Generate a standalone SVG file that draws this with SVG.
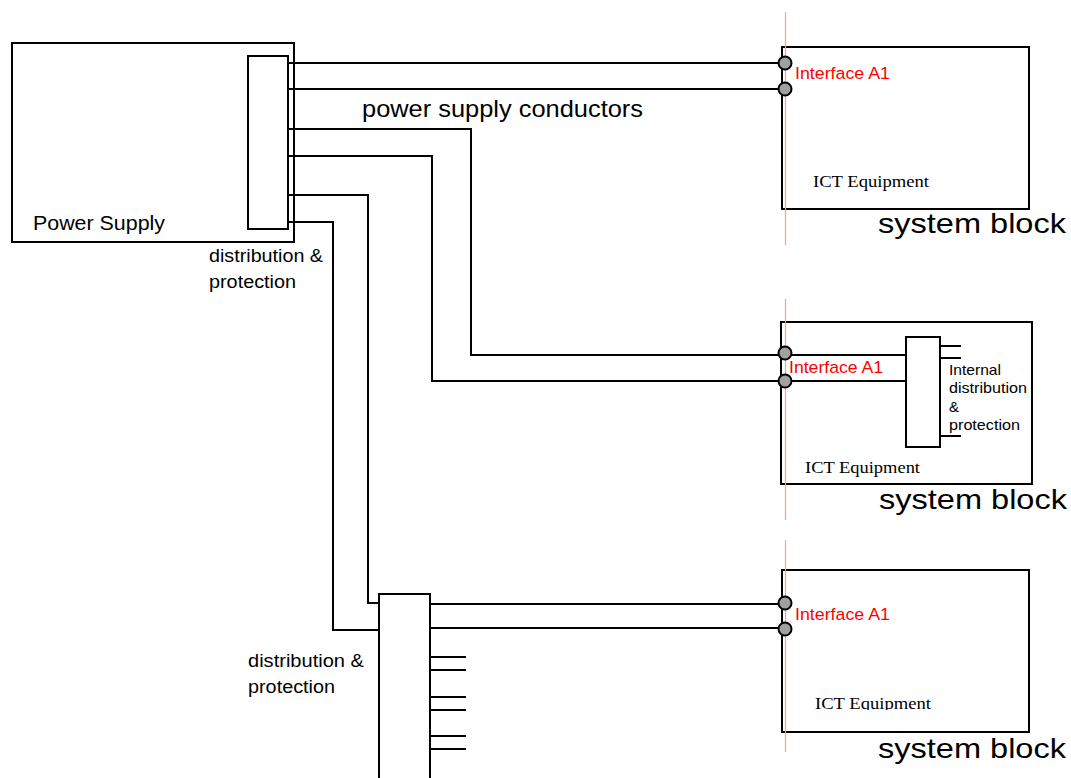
<svg xmlns="http://www.w3.org/2000/svg" width="1071" height="778" viewBox="0 0 1071 778">
<style>
.box{fill:#fff;stroke:#000;stroke-width:2}
.w{fill:none;stroke:#000;stroke-width:2}
.pin{fill:#a0a0a0;stroke:#000;stroke-width:2}
.ref{stroke:#ff9a9a;stroke-width:1.2}
.s{font-family:"Liberation Sans",Arial,sans-serif;fill:#000}
.r{font-family:"Liberation Sans",Arial,sans-serif;fill:#ff0000;font-size:17px}
.t{font-family:"Liberation Serif","Times New Roman",serif;fill:#000;font-size:16px}
</style>
<defs>
<clipPath id="clip3"><rect x="782" y="571" width="246" height="139"/></clipPath>
</defs>
<rect width="1071" height="778" fill="#fff"/>

<g id="power-supply">
<rect class="box" x="12" y="43" width="282" height="199"/>
<rect class="box" x="248" y="56" width="40" height="173"/>
<text class="s" x="33" y="230" font-size="20" textLength="132" lengthAdjust="spacingAndGlyphs">Power Supply</text>
<text class="s" x="209" y="262" font-size="18" textLength="114" lengthAdjust="spacingAndGlyphs">distribution &amp;</text>
<text class="s" x="209" y="288" font-size="18" textLength="87" lengthAdjust="spacingAndGlyphs">protection</text>
</g>

<g id="block1">
<rect class="box" x="782" y="47" width="247" height="162"/>
<line class="ref" x1="785.5" y1="12" x2="785.5" y2="245"/>
<text class="r" x="795" y="79" textLength="95" lengthAdjust="spacingAndGlyphs">Interface A1</text>
<text class="t" x="813" y="187" textLength="116" lengthAdjust="spacingAndGlyphs">ICT Equipment</text>
<text class="s" x="878" y="233" font-size="28" textLength="188" lengthAdjust="spacingAndGlyphs">system block</text>
</g>

<g id="block2">
<rect class="box" x="781" y="322" width="251" height="162"/>
<line class="ref" x1="785.5" y1="299" x2="785.5" y2="520"/>
<rect class="box" x="906" y="337" width="34" height="110"/>
<path class="w" d="M940 346H961M940 358H961M940 436H961"/>
<text class="s" x="949" y="375" font-size="15" textLength="52" lengthAdjust="spacingAndGlyphs">Internal</text>
<text class="s" x="949" y="393" font-size="15" textLength="78" lengthAdjust="spacingAndGlyphs">distribution</text>
<text class="s" x="949" y="412" font-size="15">&amp;</text>
<text class="s" x="949" y="430" font-size="15" textLength="71" lengthAdjust="spacingAndGlyphs">protection</text>
<text class="r" x="789" y="373" textLength="94" lengthAdjust="spacingAndGlyphs">Interface A1</text>
<text class="t" x="805" y="473" textLength="115" lengthAdjust="spacingAndGlyphs">ICT Equipment</text>
<text class="s" x="879" y="509" font-size="28" textLength="188" lengthAdjust="spacingAndGlyphs">system block</text>
</g>

<g id="block3">
<rect class="box" x="782" y="570" width="247" height="162"/>
<line class="ref" x1="785.5" y1="540" x2="785.5" y2="752"/>
<text class="r" x="795" y="620" textLength="95" lengthAdjust="spacingAndGlyphs">Interface A1</text>
<text class="t" x="815" y="709" textLength="116" lengthAdjust="spacingAndGlyphs" clip-path="url(#clip3)">ICT Equipment</text>
<text class="s" x="878" y="758" font-size="28" textLength="188" lengthAdjust="spacingAndGlyphs">system block</text>
</g>

<g id="distribution2">
<rect class="box" x="379" y="594" width="51" height="200"/>
<path class="w" d="M430 657H466M430 670H466M430 697H466M430 710H466M430 736H466M430 749H466"/>
<text class="s" x="248" y="667" font-size="18" textLength="116" lengthAdjust="spacingAndGlyphs">distribution &amp;</text>
<text class="s" x="248" y="693" font-size="18" textLength="87" lengthAdjust="spacingAndGlyphs">protection</text>
</g>

<g id="connectors">
<path class="w" d="M288 63H785M288 89H785"/>
<path class="w" d="M288 129H471V355H906"/>
<path class="w" d="M288 156H432V381H906"/>
<path class="w" d="M288 195H368V603H379"/>
<path class="w" d="M288 222H333V630H379"/>
<path class="w" d="M430 604H785M430 628H785"/>
<text class="s" x="362" y="117" font-size="24" textLength="281" lengthAdjust="spacingAndGlyphs">power supply conductors</text>
<circle class="pin" cx="785" cy="63" r="6.5"/>
<circle class="pin" cx="785" cy="89" r="6.5"/>
<circle class="pin" cx="785" cy="353" r="6.5"/>
<circle class="pin" cx="785" cy="381" r="6.5"/>
<circle class="pin" cx="785" cy="603" r="6.5"/>
<circle class="pin" cx="785" cy="629" r="6.5"/>
</g>
</svg>
